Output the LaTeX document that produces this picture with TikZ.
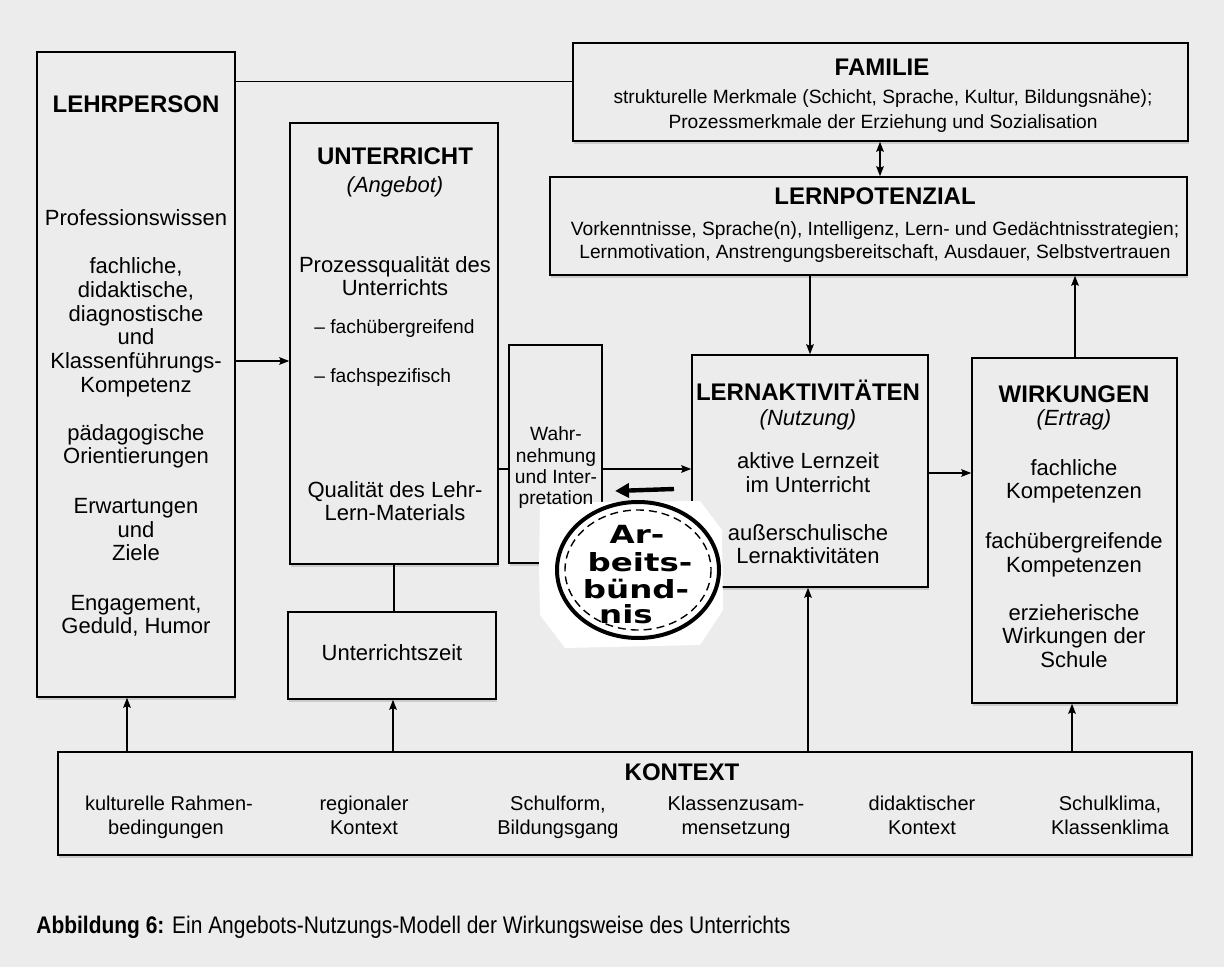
\documentclass[tikz,border=0pt]{standalone}
\usepackage{graphicx}
\usepackage{fontspec}
\setmainfont{Liberation Sans}
\newfontfamily\handfont{DejaVu Sans}
\usetikzlibrary{arrows.meta,shadows,calc}
\definecolor{paper}{gray}{0.925}
\newcommand{\handtxt}[1]{\scalebox{1.3}[1]{#1}}
\begin{document}
\begin{tikzpicture}[x=0.5pt,y=-0.5pt,
  box/.style={draw, line width=0.75pt, fill=paper, inner sep=0pt,
    drop shadow={shadow xshift=0.6pt, shadow yshift=-1.4pt, opacity=0.3}},
  ln/.style={line width=0.7pt},
  arr/.style={line width=0.7pt, -{Stealth[length=5pt,width=3.8pt,inset=0.8pt]}},
  darr/.style={line width=0.7pt, {Stealth[length=5pt,width=3.8pt,inset=0.8pt]}-{Stealth[length=5pt,width=3.8pt,inset=0.8pt]}},
  ttl/.style={font=\fontsize{12}{14}\selectfont\bfseries, anchor=mid, inner sep=0pt},
  bd/.style={font=\fontsize{11}{13}\selectfont, anchor=mid, inner sep=0pt},
  itx/.style={font=\fontsize{11}{13}\selectfont\itshape, anchor=mid, inner sep=0pt},
  sm/.style={font=\fontsize{9.6}{11}\selectfont, anchor=mid, inner sep=0pt},
  kt/.style={font=\fontsize{10}{12}\selectfont, anchor=mid, inner sep=0pt},
  hand/.style={font=\handfont\bfseries\fontsize{12.5}{14}\selectfont, anchor=mid, inner sep=0pt}]
\useasboundingbox (0,0) rectangle (1224,967);
\fill[paper] (0,0) rectangle (1224,967);

% boxes
\node[box, minimum width=99pt,   minimum height=322.5pt] (lehr)  at (136,374.5) {};
\node[box, minimum width=104pt,  minimum height=220.5pt] (unt)   at (394,343.5) {};
\node[box, minimum width=104pt,  minimum height=43.5pt]  (uzeit) at (392,655.5) {};
\node[box, minimum width=46.5pt, minimum height=109pt]   (wahr)  at (555.5,454) {};
\node[box, minimum width=307.5pt,minimum height=49pt]    (fam)   at (880.5,92) {};
\node[box, minimum width=318.5pt,minimum height=49pt]    (lpot)  at (868.5,226) {};
\node[box, minimum width=118pt,  minimum height=116pt]   (lakt)  at (810,471) {};
\node[box, minimum width=102.5pt,minimum height=172.5pt] (wirk)  at (1074.5,530.5) {};
\node[box, minimum width=567pt,  minimum height=51.5pt]  (kont)  at (625,803.5) {};

% connectors
\draw[ln] ([yshift=-15pt]lehr.north east) coordinate (c1) -- (c1 -| fam.west);
\draw[arr] (lehr.east |- 0,361) -- (unt.west |- 0,361);
\draw[ln] (unt.east |- 0,469) -- (wahr.west |- 0,469);
\draw[arr] (wahr.east |- 0,469) -- (lakt.west |- 0,469);
\draw[ln] (unt.south) -- (unt.south |- uzeit.north);
\draw[darr] (fam.south -| 880,0) -- (lpot.north -| 880,0);
\draw[arr] (lpot.south -| 810,0) -- (lakt.north -| 810,0);
\draw[arr] (lakt.east |- 0,473) -- (wirk.west |- 0,473);
\draw[arr] (wirk.north -| 1075,0) -- (lpot.south -| 1075,0);
\draw[arr] (kont.north -| 127,0) -- (lehr.south -| 127,0);
\draw[arr] (kont.north -| 393,0) -- (uzeit.south -| 393,0);
\draw[arr] (kont.north -| 808,0) -- (lakt.south -| 808,0);
\draw[arr] (kont.north -| 1072,0) -- (wirk.south -| 1072,0);

% pasted patch with hand drawn circle
\fill[white] (540,504) -- (600,502) -- (700,501) -- (722,530) -- (723,610) -- (700,645) -- (565,648) -- (540,615) -- (539,566) -- cycle;
\draw[line width=2pt] (638,570) ellipse [x radius=81, y radius=68];
\draw[line width=0.7pt, dash pattern=on 4pt off 2.5pt] (638,570) ellipse [x radius=73, y radius=60];
\coordinate (ha1) at (674,489);
\coordinate (ha2) at (615,491);
\draw[line width=2.2pt, -{Triangle[length=7pt,width=7pt]}] (ha1) -- (ha2);
\node[hand] (ab1) at (637,538) {\handtxt{Ar-}};
\node[hand] (ab2) at (640,566) {\handtxt{beits-}};
\node[hand] (ab3) at (636,593) {\handtxt{bünd-}};
\node[hand] (ab4) at (626,618) {\handtxt{nis}};

% LEHRPERSON
\node[ttl] (lt) at (136,107) {LEHRPERSON};
\node[bd] (l1) at (136,220) {Professionswissen};
\node[bd] (l2) at (136,268) {fachliche,};
\node[bd] (l3) at (136,292) {didaktische,};
\node[bd] (l4) at (136,316) {diagnostische};
\node[bd] (l5) at (136,339) {und};
\node[bd] (l6) at (136,363) {Klassenführungs-};
\node[bd] (l7) at (136,387) {Kompetenz};
\node[bd] (l8) at (136,435) {pädagogische};
\node[bd] (l9) at (136,458) {Orientierungen};
\node[bd] (l10) at (136,508) {Erwartungen};
\node[bd] (l11) at (136,532) {und};
\node[bd] (l12) at (136,555) {Ziele};
\node[bd] (l13) at (136,605) {Engagement,};
\node[bd] (l14) at (136,628) {Geduld, Humor};

% UNTERRICHT
\node[ttl] (ut) at (395,159) {UNTERRICHT};
\node[itx] (u1) at (395,187) {(Angebot)};
\node[bd] (u2) at (395,267) {Prozessqualität des};
\node[bd] (u3) at (395,290) {Unterrichts};
\node[sm, anchor=mid west] (u4) at (314,328) {– fachübergreifend};
\node[sm, anchor=mid west] (u5) at (314,377) {– fachspezifisch};
\node[bd] (u6) at (395,492) {Qualität des Lehr-};
\node[bd] (u7) at (395,515) {Lern-Materials};
\node[bd] (uz) at (392,655) {Unterrichtszeit};

% Wahrnehmung
\node[sm] (w1) at (556,435) {Wahr-};
\node[sm] (w2) at (556,457) {nehmung};
\node[sm] (w3) at (556,478) {und Inter-};
\node[sm] (w4) at (556,499) {pretation};

% FAMILIE
\node[ttl] (ft) at (882,70) {FAMILIE};
\node[sm] (f1) at (883,98) {strukturelle Merkmale (Schicht, Sprache, Kultur, Bildungsnähe);};
\node[sm] (f2) at (883,123) {Prozessmerkmale der Erziehung und Sozialisation};

% LERNPOTENZIAL
\node[ttl] (pt) at (875,199) {LERNPOTENZIAL};
\node[sm] (p1) at (875,230) {Vorkenntnisse, Sprache(n), Intelligenz, Lern- und Gedächtnisstrategien;};
\node[sm] (p2) at (875,253) {Lernmotivation, Anstrengungsbereitschaft, Ausdauer, Selbstvertrauen};

% LERNAKTIVITAETEN
\node[ttl] (at) at (808,395) {LERNAKTIVITÄTEN};
\node[itx] (a1) at (808,420) {(Nutzung)};
\node[bd] (a2) at (808,463) {aktive Lernzeit};
\node[bd] (a3) at (808,487) {im Unterricht};
\node[bd] (a4) at (808,535) {außerschulische};
\node[bd] (a5) at (808,558) {Lernaktivitäten};

% WIRKUNGEN
\node[ttl] (wt) at (1074,397) {WIRKUNGEN};
\node[itx] (e1) at (1074,420) {(Ertrag)};
\node[bd] (e2) at (1074,470) {fachliche};
\node[bd] (e3) at (1074,493) {Kompetenzen};
\node[bd] (e4) at (1074,543) {fachübergreifende};
\node[bd] (e5) at (1074,567) {Kompetenzen};
\node[bd] (e6) at (1074,615) {erzieherische};
\node[bd] (e7) at (1074,638) {Wirkungen der};
\node[bd] (e8) at (1074,662) {Schule};

% KONTEXT
\node[ttl] (kt0) at (682,775) {KONTEXT};
\node[kt] (k1a) at (169,805) {kulturelle Rahmen-};
\node[kt] (k1b) at (166,829) {bedingungen};
\node[kt] (k2a) at (364,805) {regionaler};
\node[kt] (k2b) at (364,829) {Kontext};
\node[kt] (k3a) at (558,805) {Schulform,};
\node[kt] (k3b) at (558,829) {Bildungsgang};
\node[kt] (k4a) at (736,805) {Klassenzusam-};
\node[kt] (k4b) at (736,829) {mensetzung};
\node[kt] (k5a) at (922,805) {didaktischer};
\node[kt] (k5b) at (922,829) {Kontext};
\node[kt] (k6a) at (1110,805) {Schulklima,};
\node[kt] (k6b) at (1110,829) {Klassenklima};

% caption
\node[anchor=base west, inner sep=0pt, font=\fontsize{12}{14}\selectfont] (cap) at (36,933)
  {\scalebox{0.873}[1]{\textbf{Abbildung 6:} Ein Angebots-Nutzungs-Modell der Wirkungsweise des Unterrichts}};
\end{tikzpicture}
\end{document}
